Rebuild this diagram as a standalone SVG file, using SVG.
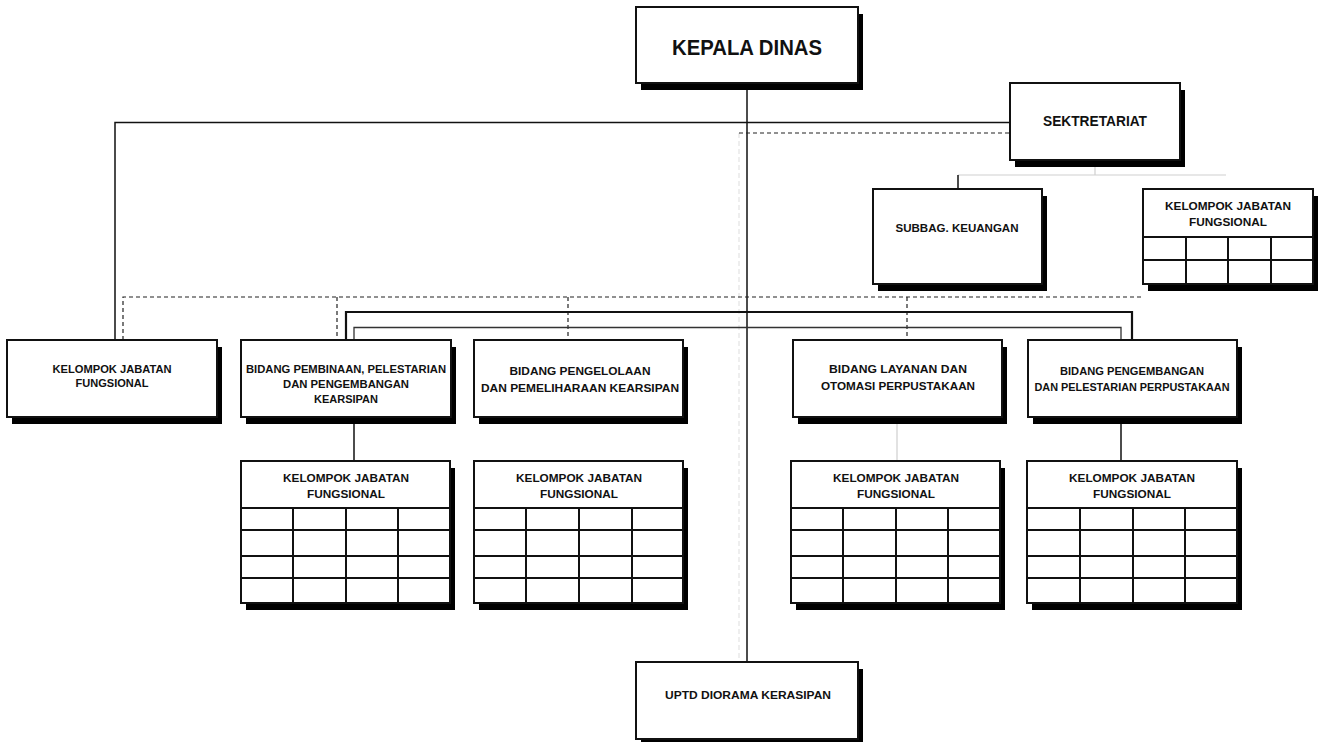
<svg xmlns="http://www.w3.org/2000/svg" width="1323" height="742" viewBox="0 0 1323 742">
<style>
.bg{fill:#ffffff}
.shadow{fill:#000000}
.box{fill:#ffffff;stroke:#111111;stroke-width:2}
.grid{stroke:#111111;stroke-width:2;fill:none}
.t{font-family:"Liberation Sans",Arial,sans-serif;font-weight:bold;fill:#111111;text-anchor:middle;font-size:11.5px}
.big{font-size:22px}
.mid{font-size:14px}
.solid{stroke:#111111;stroke-width:1.5;fill:none}
.thick{stroke:#111111;stroke-width:2.2;fill:none}
.inner{stroke:#333333;stroke-width:1.3;fill:none}
.dash{stroke:#222222;stroke-width:1.2;stroke-dasharray:4 3;fill:none}
.ldash{stroke:#dddddd;stroke-width:1;stroke-dasharray:5 3;fill:none}
.light{stroke:#cfcfcf;stroke-width:1.2;fill:none}
</style>
<rect class="bg" x="0" y="0" width="1323" height="742"/>
<g id="connectors">
  <line class="ldash" x1="739" y1="133" x2="739" y2="662"/>
  <line class="solid" x1="747" y1="83" x2="747" y2="662"/>
  <polyline class="solid" points="115,340 115,122.5 1010,122.5"/>
  <line class="dash" x1="739" y1="133" x2="1010" y2="133"/>
  <line class="light" x1="1095" y1="160" x2="1095" y2="175"/>
  <line class="light" x1="958" y1="175" x2="1226" y2="175"/>
  <line class="solid" x1="958" y1="175" x2="958" y2="189"/>
  <polyline class="dash" points="123,340 123,297 1143,297"/>
  <line class="dash" x1="337" y1="297" x2="337" y2="340"/>
  <line class="dash" x1="568" y1="297" x2="568" y2="340"/>
  <line class="dash" x1="907" y1="297" x2="907" y2="340"/>
  <polyline class="thick" points="346,340 346,312 1132,312 1132,340"/>
  <polyline class="inner" points="354,340 354,327.5 1121,327.5 1121,340"/>
  <line class="solid" x1="354" y1="417" x2="354" y2="461"/>
  <line class="light" x1="897" y1="417" x2="897" y2="461"/>
  <line class="solid" x1="1121" y1="417" x2="1121" y2="461"/>
</g>
<g id="kepala-dinas">
  <rect class="shadow" x="641" y="14" width="222" height="76"/>
  <rect class="box" x="636" y="7" width="222" height="76"/>
  <text class="t big" x="747" y="55" textLength="150" lengthAdjust="spacingAndGlyphs">KEPALA DINAS</text>
</g>
<g id="sektretariat">
  <rect class="shadow" x="1015" y="90" width="170" height="77"/>
  <rect class="box" x="1010" y="83" width="170" height="77"/>
  <text class="t mid" x="1095" y="126" textLength="104" lengthAdjust="spacingAndGlyphs">SEKTRETARIAT</text>
</g>
<g id="subbag-keuangan">
  <rect class="shadow" x="878" y="196" width="169" height="95"/>
  <rect class="box" x="873" y="189" width="169" height="95"/>
  <text class="t" x="957" y="232" textLength="123" lengthAdjust="spacingAndGlyphs">SUBBAG. KEUANGAN</text>
</g>
<g id="kjf-sekretariat">
  <rect class="shadow" x="1148" y="196" width="170" height="95"/>
  <rect class="box" x="1143" y="189" width="170" height="95"/>
  <text class="t" x="1228" y="210" textLength="126" lengthAdjust="spacingAndGlyphs">KELOMPOK JABATAN</text>
  <text class="t" x="1228" y="226" textLength="78" lengthAdjust="spacingAndGlyphs">FUNGSIONAL</text>
  <path class="grid" d="M1143 237H1313M1143 260H1313M1186 237V284M1228 237V284M1271 237V284"/>
</g>
<g id="kjf-kiri">
  <rect class="shadow" x="12" y="347" width="210" height="77"/>
  <rect class="box" x="7" y="340" width="210" height="77"/>
  <text class="t" x="112" y="373" textLength="119" lengthAdjust="spacingAndGlyphs">KELOMPOK JABATAN</text>
  <text class="t" x="112" y="387" textLength="73" lengthAdjust="spacingAndGlyphs">FUNGSIONAL</text>
</g>
<g id="bidang-pembinaan">
  <rect class="shadow" x="246" y="347" width="210" height="77"/>
  <rect class="box" x="241" y="340" width="210" height="77"/>
  <text class="t" x="346" y="373" textLength="200" lengthAdjust="spacingAndGlyphs">BIDANG PEMBINAAN, PELESTARIAN</text>
  <text class="t" x="346" y="388" textLength="126" lengthAdjust="spacingAndGlyphs">DAN PENGEMBANGAN</text>
  <text class="t" x="346" y="403" textLength="64" lengthAdjust="spacingAndGlyphs">KEARSIPAN</text>
</g>
<g id="bidang-pengelolaan">
  <rect class="shadow" x="479" y="347" width="209" height="77"/>
  <rect class="box" x="474" y="340" width="209" height="77"/>
  <text class="t" x="580" y="375" textLength="141" lengthAdjust="spacingAndGlyphs">BIDANG PENGELOLAAN</text>
  <text class="t" x="580" y="392" textLength="198" lengthAdjust="spacingAndGlyphs">DAN PEMELIHARAAN KEARSIPAN</text>
</g>
<g id="bidang-layanan">
  <rect class="shadow" x="798" y="347" width="209" height="77"/>
  <rect class="box" x="793" y="340" width="209" height="77"/>
  <text class="t" x="898" y="373" textLength="138" lengthAdjust="spacingAndGlyphs">BIDANG LAYANAN DAN</text>
  <text class="t" x="898" y="390" textLength="154" lengthAdjust="spacingAndGlyphs">OTOMASI PERPUSTAKAAN</text>
</g>
<g id="bidang-pengembangan">
  <rect class="shadow" x="1033" y="347" width="209" height="77"/>
  <rect class="box" x="1028" y="340" width="209" height="77"/>
  <text class="t" x="1132" y="375" textLength="144" lengthAdjust="spacingAndGlyphs">BIDANG  PENGEMBANGAN</text>
  <text class="t" x="1132" y="391" textLength="195" lengthAdjust="spacingAndGlyphs">DAN PELESTARIAN PERPUSTAKAAN</text>
</g>
<g id="kjf-pembinaan">
  <rect class="shadow" x="246" y="468" width="209" height="142"/>
  <rect class="box" x="241" y="461" width="209" height="142"/>
  <text class="t" x="346" y="482" textLength="126" lengthAdjust="spacingAndGlyphs">KELOMPOK JABATAN</text>
  <text class="t" x="346" y="498" textLength="78" lengthAdjust="spacingAndGlyphs">FUNGSIONAL</text>
  <path class="grid" d="M241 508H450M241 530H450M241 556H450M241 578H450M293 508V603M346 508V603M398 508V603"/>
</g>
<g id="kjf-pengelolaan">
  <rect class="shadow" x="479" y="468" width="209" height="142"/>
  <rect class="box" x="474" y="461" width="209" height="142"/>
  <text class="t" x="579" y="482" textLength="126" lengthAdjust="spacingAndGlyphs">KELOMPOK JABATAN</text>
  <text class="t" x="579" y="498" textLength="78" lengthAdjust="spacingAndGlyphs">FUNGSIONAL</text>
  <path class="grid" d="M474 508H683M474 530H683M474 556H683M474 578H683M526 508V603M579 508V603M632 508V603"/>
</g>
<g id="kjf-layanan">
  <rect class="shadow" x="796" y="468" width="209" height="142"/>
  <rect class="box" x="791" y="461" width="209" height="142"/>
  <text class="t" x="896" y="482" textLength="126" lengthAdjust="spacingAndGlyphs">KELOMPOK JABATAN</text>
  <text class="t" x="896" y="498" textLength="78" lengthAdjust="spacingAndGlyphs">FUNGSIONAL</text>
  <path class="grid" d="M791 508H1000M791 530H1000M791 556H1000M791 578H1000M843 508V603M896 508V603M948 508V603"/>
</g>
<g id="kjf-pengembangan">
  <rect class="shadow" x="1032" y="468" width="210" height="142"/>
  <rect class="box" x="1027" y="461" width="210" height="142"/>
  <text class="t" x="1132" y="482" textLength="126" lengthAdjust="spacingAndGlyphs">KELOMPOK JABATAN</text>
  <text class="t" x="1132" y="498" textLength="78" lengthAdjust="spacingAndGlyphs">FUNGSIONAL</text>
  <path class="grid" d="M1027 508H1237M1027 530H1237M1027 556H1237M1027 578H1237M1080 508V603M1133 508V603M1185 508V603"/>
</g>
<g id="uptd-diorama">
  <rect class="shadow" x="641" y="669" width="222" height="73"/>
  <rect class="box" x="636" y="662" width="222" height="77"/>
  <text class="t" x="748" y="699" textLength="166" lengthAdjust="spacingAndGlyphs">UPTD DIORAMA KERASIPAN</text>
</g>
</svg>
